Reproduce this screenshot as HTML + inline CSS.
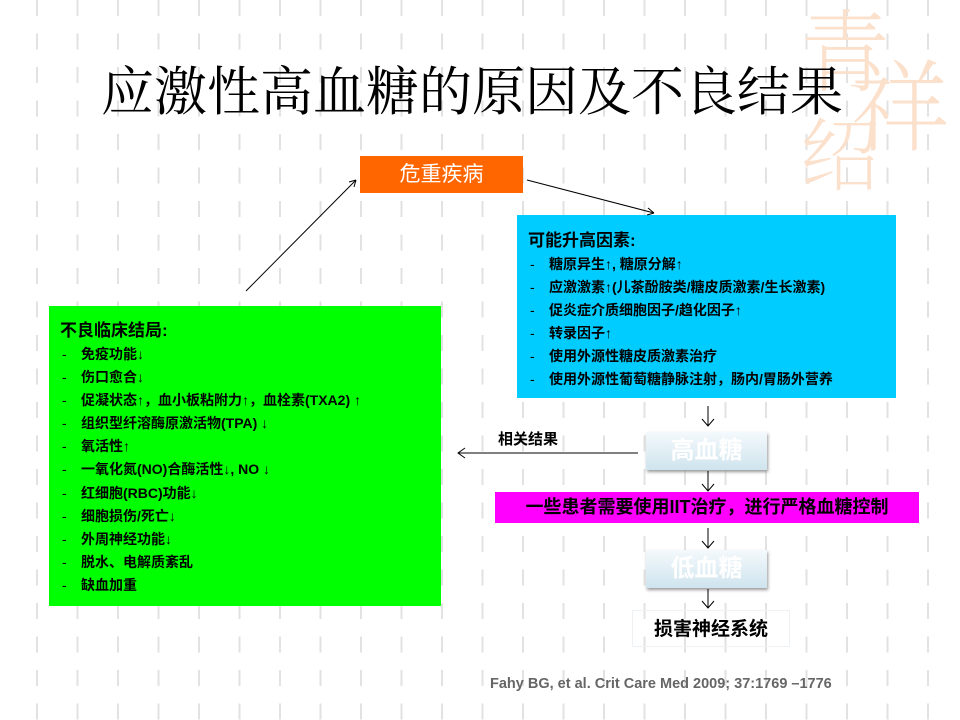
<!DOCTYPE html>
<html><head><meta charset="utf-8"><style>
body{margin:0;width:960px;height:720px;overflow:hidden;background:#fff;position:relative;font-family:"Liberation Sans","Noto Sans CJK SC",sans-serif}
.bg{position:absolute;left:0;top:0;width:960px;height:720px;background-image:repeating-linear-gradient(to bottom,#e2e2e2 0 16px,transparent 16px 33.5px);-webkit-mask-image:repeating-linear-gradient(to right,transparent 0 36px,#000 36px 38px,transparent 38px 40.5px);mask-image:repeating-linear-gradient(to right,transparent 0 36px,#000 36px 38px,transparent 38px 40.5px)}
.a{position:absolute}
.wm{position:absolute;color:#fbe0cc;font-family:"Noto Serif CJK SC",serif;font-weight:200}
h1{position:absolute;left:101px;top:58px;margin:0;font-weight:normal;font-size:53px;letter-spacing:0px;font-family:"Noto Serif CJK SC","Noto Sans CJK SC",serif;white-space:nowrap;color:#000;line-height:60px}
ul{margin:0;padding:0;list-style:none}
li{position:relative;padding-left:28px;white-space:nowrap}
li:before{content:"-";position:absolute;left:9px;font-weight:normal}
.grn{left:49px;top:306px;width:392px;height:300px;background:#00ff00;font-weight:bold;color:#000}
.blu{left:517px;top:215px;width:379px;height:183px;background:#00ccff;font-weight:bold}
.pb{background:linear-gradient(#f4f9fc,#cfe4ee);box-shadow:1px 2px 3px #999;color:#fff;font-size:24px;text-align:center;font-weight:bold}
</style></head><body>
<div class="bg"></div>
<div class="wm" style="left:800px;top:0px;font-size:90px;line-height:90px">青</div>
<div class="wm" style="left:850px;top:50px;font-size:100px;line-height:100px">祥</div>
<div class="wm" style="left:800px;top:110px;font-size:80px;line-height:80px">绍</div>
<h1>应激性高血糖的原因及不良结果</h1>
<div class="a" style="left:360px;top:156px;width:163px;height:37px;background:#ff6600;color:#fff;font-size:21px;line-height:37px;text-align:center">危重疾病</div>
<div class="a blu"><div style="font-size:17px;margin:11px 0 2px 11px">可能升高因素:</div>
<ul style="font-size:14px;line-height:23px;margin-left:4px">
<li>糖原异生↑, 糖原分解↑</li><li>应激激素↑(儿茶酚胺类/糖皮质激素/生长激素)</li><li>促炎症介质细胞因子/趋化因子↑</li><li>转录因子↑</li><li>使用外源性糖皮质激素治疗</li><li>使用外源性葡萄糖静脉注射，肠内/胃肠外营养</li></ul></div>
<div class="a grn"><div style="font-size:17px;margin:10px 0 2px 11px">不良临床结局:</div>
<ul style="font-size:14px;line-height:23.1px;margin-left:4px">
<li>免疫功能↓</li><li>伤口愈合↓</li><li>促凝状态↑，血小板粘附力↑，血栓素(TXA2) ↑</li><li>组织型纤溶酶原激活物(TPA) ↓</li><li>氧活性↑</li><li>一氧化氮(NO)合酶活性↓, NO ↓</li><li>红细胞(RBC)功能↓</li><li>细胞损伤/死亡↓</li><li>外周神经功能↓</li><li>脱水、电解质紊乱</li><li>缺血加重</li></ul></div>
<div class="a pb" style="left:646px;top:432px;width:121px;height:38px;line-height:38px">高血糖</div>
<div class="a pb" style="left:646px;top:550px;width:121px;height:38px;line-height:38px">低血糖</div>
<div class="a" style="left:495px;top:492px;width:424px;height:31px;background:#ff00ff;font-weight:bold;font-size:18px;line-height:31px;text-align:center">一些患者需要使用IIT治疗，进行严格血糖控制</div>
<div class="a" style="left:632px;top:610px;width:158px;height:37px;border:1px solid #eef2f4;box-sizing:border-box;font-weight:bold;font-size:19px;line-height:37px;text-align:center">损害神经系统</div>
<div class="a" style="left:498px;top:428px;font-weight:bold;font-size:15px">相关结果</div>
<div class="a" style="left:490px;top:676px;font-weight:bold;font-size:14.5px;color:#666">Fahy BG, et al. Crit Care Med 2009; 37:1769 –1776</div>
<svg class="a" style="left:0;top:0" width="960" height="720" fill="none" stroke="#000" stroke-width="1">
<path d="M246 291L356 180M356 180l-7 2M356 180l-2 7"/>
<path d="M527 180L654 213M654 213l-6-5M654 213l-7 2"/>
<path d="M708 406v20M702 419l6 7 6-7"/>
<path d="M708 471v20M702 484l6 7 6-7"/>
<path d="M708 528v20M702 541l6 7 6-7"/>
<path d="M708 589v19M702 601l6 7 6-7"/>
<path d="M638 453H458M465 448l-7 5 7 5"/>
</svg>
</body></html>
